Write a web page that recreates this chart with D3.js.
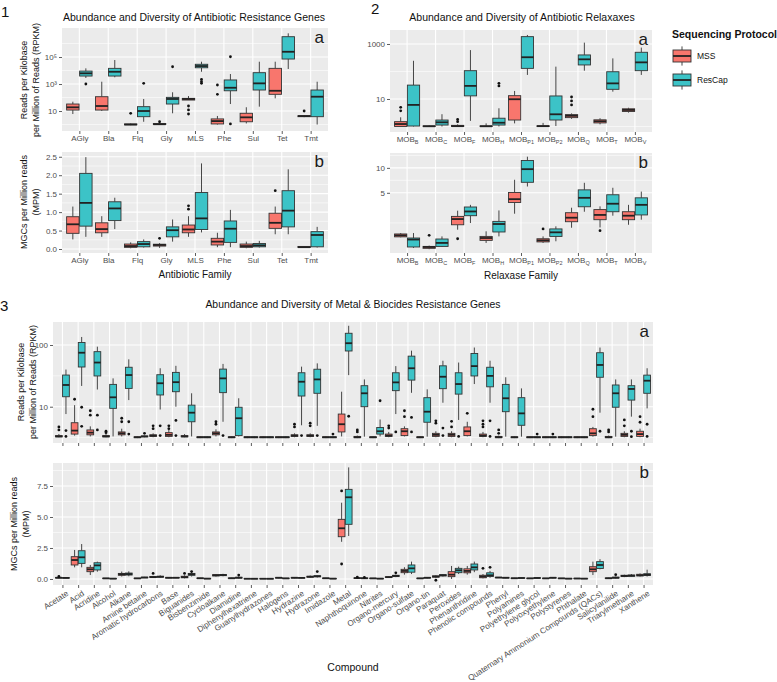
<!DOCTYPE html>
<html><head><meta charset="utf-8">
<script src="https://cdn.jsdelivr.net/npm/d3@7"></script>
<style>
body{margin:0;background:#fff;}
text{font-family:"Liberation Sans",Arial,Helvetica,sans-serif;}
</style></head>
<body>
<svg id="chart" width="777" height="682"></svg>
<script>
// ---------------- DATA ----------------
// each box: [lower whisker, q1, median, q3, upper whisker, [outliers]]
const antibioticFamilies = ["AGly","Bla","Flq","Gly","MLS","Phe","Sul","Tet","Tmt"];
const abxRpkmMSS = [
  [6.0,11.8,18.8,33,49,[]],
  [10,11.8,23.5,115,1480,[]],
  [0.9,0.95,1.0,1.1,1.2,[6.8]],
  [0.95,1.0,1.05,1.2,1.4,[1.6]],
  [65,65,78,87,129,[23.5,12,6]],
  [1.0,1.1,1.8,2.6,4.3,[850,173]],
  [1.2,1.6,3.4,6.8,19,[]],
  [87,173,316,14500,45000,[]],
  [3.5,3.8,4.2,4.5,5,[10]]
];
const abxRpkmResCap = [
  [2800,3900,6200,9100,14500,[1000]],
  [3150,3900,8100,14500,60000,[]],
  [1.6,3.8,10,21,78,[1120]],
  [6.8,33,78,103,245,[19000]],
  [8100,16000,21500,29000,45000,[2200,1480,1120]],
  [33,316,530,2000,5500,[105000,1.1]],
  [21,360,1120,6900,45000,[]],
  [13000,71000,245000,3200000,5700000,[]],
  [1,3.8,115,360,1480,[]]
];
const abxMpmMSS = [
  [0.26,0.425,0.67,0.875,1.15,[]],
  [0.33,0.44,0.54,0.71,0.89,[]],
  [0.02,0.045,0.08,0.135,0.18,[]],
  [0.03,0.08,0.11,0.13,0.16,[0.29]],
  [0.33,0.44,0.53,0.65,0.89,[1.17,1.08]],
  [0.05,0.11,0.2,0.29,0.44,[]],
  [0.02,0.045,0.08,0.135,0.2,[]],
  [0.4,0.56,0.71,0.97,1.15,[1.58]],
  [0.03,0.04,0.05,0.07,0.08,[]]
];
const abxMpmResCap = [
  [0.33,0.62,1.25,2.05,2.49,[]],
  [0.54,0.77,1.10,1.28,1.39,[]],
  [0.04,0.06,0.135,0.2,0.26,[]],
  [0.2,0.33,0.51,0.6,0.8,[]],
  [0.45,0.53,0.83,1.53,2.32,[]],
  [0.05,0.18,0.55,0.76,1.06,[]],
  [0.04,0.06,0.1,0.15,0.22,[]],
  [0.4,0.6,1.04,1.58,2.16,[]],
  [0.04,0.06,0.38,0.47,0.6,[]]
];

const relaxaseFamilies = ["B","C","F","H","P1","P2","Q","T","V"]; // MOB subscripts
const mobRpkmMSS = [
  [1.0,1.0,1.23,1.5,2.16,[5.0,3.7]],
  [1.0,1.0,1.02,1.05,1.1,[]],
  [1.0,1.0,1.03,1.1,1.2,[1.8,1.5]],
  [1.0,1.0,1.02,1.05,1.3,[]],
  [1.3,1.72,9.8,13.2,19.6,[]],
  [1.0,1.0,1.03,1.06,1.35,[]],
  [1.9,2.1,2.45,2.7,3.0,[11.8,8.5,6.1]],
  [1.2,1.35,1.55,1.75,2.0,[]],
  [3.2,3.5,4.0,4.4,4.8,[]]
];
const mobRpkmResCap = [
  [1.0,1.04,6.1,32,245,[]],
  [1.0,1.13,1.42,1.72,2.8,[]],
  [1.6,13,30,107,600,[]],
  [1.0,1.13,1.37,2.0,4.6,[37,30]],
  [75,130,330,1850,2130,[]],
  [1.04,1.72,2.78,12.9,150,[]],
  [107,173,277,400,1120,[]],
  [18.5,22.5,37,98,300,[]],
  [75,107,215,500,740,[]]
];
const mobMpmMSS = [
  [0.34,0.36,0.43,0.5,0.55,[]],
  [0.02,0.03,0.05,0.06,0.075,[0.43]],
  [0.75,1.1,1.59,1.85,2.47,[0.28]],
  [0.14,0.22,0.31,0.38,0.65,[]],
  [2.13,3.52,4.0,5.06,7.4,[]],
  [0.14,0.17,0.22,0.28,0.38,[0.8]],
  [0.88,1.35,1.72,2.24,2.83,[]],
  [0.9,1.53,2.0,2.6,3.0,[0.69]],
  [1.1,1.53,1.92,2.35,3.2,[]]
];
const mobMpmResCap = [
  [0.036,0.05,0.25,0.31,0.55,[]],
  [0.05,0.06,0.14,0.27,0.38,[]],
  [1.24,1.92,2.38,2.92,3.2,[]],
  [0.38,0.61,1.16,1.38,2.5,[]],
  [6.1,6.9,9.7,11.8,12.8,[]],
  [0.19,0.38,0.59,0.8,0.98,[]],
  [2.35,2.95,4.2,5.5,6.8,[]],
  [1.92,2.35,3.35,4.68,5.87,[]],
  [1.53,2.0,3.2,4.2,5.2,[]]
];

const compounds = ["Acetate","Acid","Acridine","Alcohol","Alkane","Amine betaine","Aromatic hydrocarbons","Base","Biguanides","Bisbenzimide","Cycloalkane","Diamidine","Diphenylhexatriene","Guanylhydrazones","Halogens","Hydrazine","Hydrazone","Imidazole","Metal","Naphthoquinone","Nitrites","Organo-mercury","Organo-sulfate","Organo-tin","Paraquat","Peroxides","Phenanthridine","Phenolic compounds","Phenyl","Polyamines","Polyethylene glycol","Polyoxyethylene","Polystyrenes","Phthalate","Quaternary Ammonium Compounds (QACs)","Salicylanilide","Triarylmethane","Xanthene"];
const metRpkmMSS = [
  [3.2,3.25,3.3,3.4,3.6,[4.7,4.2]],
  [3.4,3.6,4.1,5.5,10.6,[13.2]],
  [3.3,3.5,3.8,4.2,4.8,[8.6,7.3]],
  [3.2,3.25,3.3,3.4,3.6,[4.0,3.8]],
  [3.3,3.5,3.7,3.9,4.4,[6.5,5.7]],
  [3.1,3.15,3.2,3.25,3.3,[]],
  [3.2,3.3,3.4,3.5,3.7,[4.9,4.4]],
  [3.2,3.3,3.5,3.8,4.2,[4.9,4.4]],
  [3.2,3.25,3.3,3.4,3.6,[]],
  [3.1,3.15,3.2,3.25,3.3,[]],
  [3.3,3.5,3.7,3.9,4.3,[5.7,5.2]],
  [3.1,3.15,3.2,3.25,3.3,[]],
  [3.1,3.15,3.2,3.25,3.3,[]],
  [3.1,3.15,3.2,3.25,3.3,[]],
  [3.1,3.15,3.2,3.25,3.3,[]],
  [3.2,3.3,3.4,3.5,3.7,[5.2,4.7]],
  [3.2,3.3,3.4,3.5,3.7,[5.4,4.9]],
  [3.1,3.15,3.2,3.25,3.3,[]],
  [3.3,3.9,5.2,7.6,17.5,[]],
  [3.1,3.15,3.2,3.3,3.4,[4.2,3.9]],
  [3.1,3.15,3.2,3.25,3.3,[]],
  [3.2,3.3,3.4,3.6,3.9,[4.9,4.5]],
  [3.3,3.4,4.0,4.4,4.8,[8.6,6.9]],
  [3.1,3.15,3.2,3.25,3.3,[]],
  [3.2,3.3,3.5,3.7,4.0,[5.9,5.4]],
  [3.2,3.3,3.5,3.7,4.0,[5.8,4.7]],
  [3.3,3.4,4.0,4.7,5.7,[7.8]],
  [3.2,3.3,3.4,3.6,3.9,[5.9,5.2,4.7]],
  [3.1,3.15,3.2,3.3,3.4,[4.2,3.7]],
  [3.1,3.15,3.2,3.25,3.3,[]],
  [3.1,3.15,3.2,3.25,3.3,[]],
  [3.1,3.15,3.2,3.25,3.3,[]],
  [3.1,3.15,3.2,3.25,3.3,[]],
  [3.1,3.15,3.2,3.25,3.3,[]],
  [3.27,3.4,3.7,4.4,4.7,[9.1,6.9]],
  [3.1,3.15,3.2,3.3,3.4,[4.2,3.9]],
  [3.2,3.3,3.5,3.7,4.0,[6.1,4.9]],
  [3.2,3.3,3.6,4.0,4.4,[6.9,5.6]]
];
const metRpkmResCap = [
  [7.6,14.5,22.5,32.6,40,[4.1,3.3]],
  [21.7,44,75,110,135,[9.8,4.8]],
  [19,31.5,52,78,94,[7.3,4.2]],
  [3.3,9.4,14.2,23,28.8,[]],
  [12.8,19.8,32.6,43.6,58.6,[5.7,3.6]],
  [3.2,3.25,3.3,3.35,3.4,[3.7]],
  [9,15.5,24,33,42,[4.9,3.4]],
  [10,17.5,25,36,46,[6,3.4]],
  [3.3,5.7,8.0,10.6,16.5,[]],
  [3.1,3.15,3.2,3.25,3.3,[]],
  [5.7,16.9,28.8,40.7,49.4,[3.4]],
  [3.3,3.4,6.5,9.8,13.7,[]],
  [3.1,3.15,3.2,3.25,3.3,[]],
  [3.1,3.15,3.2,3.25,3.3,[]],
  [3.1,3.15,3.2,3.25,3.3,[]],
  [5.0,14.9,25.4,35.5,44.6,[3.4]],
  [4.9,16.5,27.7,40.5,50.4,[3.4]],
  [3.1,3.15,3.2,3.25,3.3,[3.6]],
  [32.5,80,107,155,205,[7.0]],
  [3.27,10,16.5,21.9,27.7,[]],
  [3.3,3.6,4.0,4.6,6.2,[12.5]],
  [7.6,18.2,24.8,35.5,45.5,[3.9]],
  [16.8,27,42,66,81,[6.7,3.9]],
  [3.27,5.6,8.3,14,19.1,[]],
  [11.6,19.6,30.6,46,55.6,[4.5,3.4]],
  [6.1,16,23.3,35.5,52,[3.3]],
  [23.3,31.5,45.5,73,91,[]],
  [11.6,21,31.6,43.6,55.6,[5.9,3.3]],
  [3.27,8.3,13.7,23,30,[]],
  [3.27,5.0,7.8,14,19.8,[]],
  [3.1,3.15,3.2,3.25,3.3,[3.6]],
  [3.1,3.15,3.2,3.25,3.3,[3.6]],
  [3.1,3.15,3.2,3.25,3.3,[]],
  [3.1,3.15,3.2,3.25,3.3,[]],
  [8,30,47.5,75,91,[4.0]],
  [3.27,9.8,16.5,22.5,27.7,[]],
  [6.9,12.8,19.4,21.9,27.7,[4.0,3.27]],
  [9.4,16.5,26.4,32.5,42,[5.2,3.3]]
];
const metMpmMSS = [
  [0.05,0.08,0.1,0.12,0.15,[0.2]],
  [0.94,1.13,1.53,1.80,2.34,[]],
  [0.32,0.59,0.78,0.94,1.13,[]],
  [0.02,0.04,0.05,0.06,0.08,[]],
  [0.2,0.3,0.38,0.45,0.6,[]],
  [0.02,0.04,0.05,0.06,0.08,[]],
  [0.08,0.12,0.15,0.2,0.25,[0.45]],
  [0.06,0.08,0.1,0.11,0.13,[]],
  [0.05,0.1,0.15,0.22,0.3,[0.45]],
  [0.03,0.05,0.06,0.07,0.09,[]],
  [0.2,0.25,0.3,0.35,0.4,[]],
  [0.03,0.05,0.06,0.08,0.1,[]],
  [0.01,0.02,0.02,0.03,0.04,[]],
  [0.01,0.02,0.02,0.03,0.04,[]],
  [0.06,0.08,0.1,0.11,0.12,[]],
  [0.06,0.08,0.1,0.11,0.12,[]],
  [0.1,0.15,0.18,0.22,0.28,[]],
  [0.03,0.05,0.06,0.07,0.09,[]],
  [3.0,3.41,4.09,4.81,6.15,[7.1,1.21]],
  [0.02,0.05,0.07,0.09,0.12,[0.15]],
  [0.02,0.04,0.05,0.06,0.07,[]],
  [0.08,0.12,0.15,0.18,0.22,[]],
  [0.35,0.51,0.65,0.78,0.95,[]],
  [0.02,0.04,0.05,0.06,0.08,[]],
  [0.08,0.15,0.2,0.25,0.3,[-0.1]],
  [0.0,0.19,0.35,0.59,1.05,[]],
  [0.35,0.5,0.65,0.82,1.05,[]],
  [0.05,0.1,0.2,0.3,0.4,[0.86]],
  [0.08,0.1,0.12,0.13,0.15,[]],
  [0.03,0.05,0.06,0.07,0.09,[]],
  [0.03,0.04,0.05,0.06,0.07,[]],
  [0.03,0.04,0.05,0.06,0.07,[]],
  [0.02,0.04,0.05,0.06,0.07,[]],
  [0.02,0.03,0.04,0.05,0.06,[]],
  [0.32,0.59,0.78,0.99,1.4,[]],
  [0.02,0.04,0.06,0.08,0.1,[]],
  [0.15,0.2,0.25,0.3,0.35,[]],
  [0.2,0.25,0.3,0.38,0.45,[]]
];
const metMpmResCap = [
  [0.05,0.07,0.09,0.11,0.14,[]],
  [0.94,1.26,1.75,2.28,2.82,[]],
  [0.59,0.73,1.1,1.31,1.4,[]],
  [0.01,0.02,0.03,0.04,0.05,[]],
  [0.22,0.32,0.4,0.48,0.62,[]],
  [0.08,0.1,0.12,0.14,0.17,[]],
  [0.1,0.15,0.18,0.22,0.3,[]],
  [0.07,0.09,0.1,0.12,0.14,[]],
  [0.2,0.3,0.38,0.45,0.55,[0.6]],
  [0.01,0.02,0.03,0.04,0.05,[]],
  [0.22,0.27,0.32,0.36,0.42,[]],
  [0.05,0.08,0.1,0.14,0.2,[0.32]],
  [0.01,0.01,0.02,0.02,0.03,[]],
  [0.01,0.01,0.02,0.02,0.03,[]],
  [0.03,0.04,0.05,0.06,0.07,[]],
  [0.06,0.08,0.09,0.1,0.12,[]],
  [0.12,0.18,0.22,0.26,0.3,[0.6]],
  [0.01,0.02,0.03,0.04,0.05,[]],
  [3.47,4.41,6.59,7.23,9.0,[]],
  [0.02,0.04,0.06,0.08,0.1,[0.13]],
  [0.01,0.02,0.03,0.04,0.05,[]],
  [0.15,0.2,0.25,0.3,0.35,[0.5]],
  [0.4,0.55,0.86,1.13,1.4,[]],
  [0.05,0.08,0.1,0.12,0.15,[]],
  [0.2,0.25,0.3,0.35,0.4,[]],
  [0.4,0.51,0.7,0.86,1.0,[]],
  [0.55,0.73,0.94,1.21,1.4,[]],
  [0.1,0.2,0.3,0.5,0.65,[0.94]],
  [0.06,0.08,0.1,0.11,0.12,[]],
  [0.05,0.07,0.08,0.09,0.11,[]],
  [0.05,0.07,0.08,0.1,0.12,[]],
  [0.05,0.08,0.1,0.11,0.13,[]],
  [0.01,0.02,0.03,0.04,0.05,[]],
  [0.01,0.02,0.03,0.03,0.04,[]],
  [0.78,0.85,1.13,1.4,1.6,[]],
  [0.05,0.08,0.1,0.15,0.2,[0.35]],
  [0.18,0.22,0.27,0.32,0.4,[]],
  [0.2,0.28,0.35,0.42,0.75,[]]
];

const seriesNames = ["MSS","ResCap"];
const seriesColors = ["#F8766D","#3CC3C7"];

// ---------------- DRAWING ----------------
const FONT = '"Liberation Sans", Arial, Helvetica, sans-serif';
const svg = d3.select("#chart");

function drawPanel(o) {
  const g = svg.append("g");
  const idx = o.cats.map((c, i) => i);
  const x = d3.scalePoint().domain(idx).range([o.x0, o.x1]).padding(0.6);
  const step = x.step();
  const y = o.y;
  g.append("rect").attr("x", o.x0).attr("y", o.y0)
    .attr("width", o.x1 - o.x0).attr("height", o.y1 - o.y0).attr("fill", "#EBEBEB");
  const inside = v => { const p = y(v); return p >= o.y0 && p <= o.y1; };
  g.selectAll(".mi").data(o.minor.filter(inside)).join("line")
    .attr("x1", o.x0).attr("x2", o.x1).attr("y1", d => y(d)).attr("y2", d => y(d))
    .attr("stroke", "#fff").attr("stroke-width", 0.55);
  g.selectAll(".ma").data(o.major.filter(inside)).join("line")
    .attr("x1", o.x0).attr("x2", o.x1).attr("y1", d => y(d)).attr("y2", d => y(d))
    .attr("stroke", "#fff").attr("stroke-width", 1.1);
  g.selectAll(".vx").data(idx).join("line")
    .attr("x1", d => x(d)).attr("x2", d => x(d)).attr("y1", o.y0).attr("y2", o.y1)
    .attr("stroke", "#fff").attr("stroke-width", 1.1);

  const off = 0.225 * step, bw = 0.43 * step;
  [o.mss, o.rescap].forEach((arr, s) => {
    const dx = s === 0 ? -off : off;
    const bg = g.append("g");
    const box = bg.selectAll("g").data(arr).join("g");
    box.append("line").attr("x1", (d, i) => x(i) + dx).attr("x2", (d, i) => x(i) + dx)
      .attr("y1", d => y(d[4])).attr("y2", d => y(d[3])).attr("stroke", "#333").attr("stroke-width", 0.9);
    box.append("line").attr("x1", (d, i) => x(i) + dx).attr("x2", (d, i) => x(i) + dx)
      .attr("y1", d => y(d[1])).attr("y2", d => y(d[0])).attr("stroke", "#333").attr("stroke-width", 0.9);
    box.append("rect").attr("x", (d, i) => x(i) + dx - bw / 2).attr("y", d => y(d[3]))
      .attr("width", bw).attr("height", d => Math.max(0.1, y(d[1]) - y(d[3])))
      .attr("fill", seriesColors[s]).attr("stroke", "#333").attr("stroke-width", 0.9);
    box.append("line").attr("x1", (d, i) => x(i) + dx - bw / 2).attr("x2", (d, i) => x(i) + dx + bw / 2)
      .attr("y1", d => y(d[2])).attr("y2", d => y(d[2])).attr("stroke", "#222").attr("stroke-width", 1.8);
    box.each(function (d, i) {
      d3.select(this).selectAll("circle").data(d[5]).join("circle")
        .attr("cx", x(i) + dx).attr("cy", v => y(v)).attr("r", 1.4).attr("fill", "#111");
    });
  });

  // y axis
  const ya = d3.axisLeft(y).tickValues(o.major).tickFormat((d, i) => o.labels[i]).tickSize(3).tickPadding(2);
  const yg = g.append("g").attr("transform", `translate(${o.x0},0)`).call(ya)
    .attr("font-family", FONT).attr("font-size", o.tickFont || 8);
  yg.select(".domain").remove();
  yg.selectAll(".tick line").attr("stroke", "#333").attr("stroke-width", 0.8);
  yg.selectAll(".tick text").attr("fill", "#4D4D4D");

  // x axis
  const xa = d3.axisBottom(x).tickSize(3).tickPadding(1).tickFormat(i => o.xLabelMode === "none" ? "" : o.cats[i]);
  const xg = g.append("g").attr("transform", `translate(0,${o.y1})`).call(xa)
    .attr("font-family", FONT).attr("font-size", o.xTickFont || 8);
  xg.select(".domain").remove();
  xg.selectAll(".tick line").attr("stroke", "#333").attr("stroke-width", 0.8);
  xg.selectAll(".tick text").attr("fill", "#4D4D4D");
  if (o.xLabelMode === "mob") {
    xg.selectAll(".tick text").each(function (i) {
      const t = d3.select(this); t.text(null);
      t.append("tspan").text("MOB");
      t.append("tspan").attr("font-size", 5.5).attr("dy", 2.5).text(o.cats[i]);
    });
  }
  if (o.xLabelMode === "rot") {
    xg.selectAll(".tick text").attr("x", 0).attr("y", 0).attr("dy", "0.71em")
      .attr("transform", "translate(3,5) rotate(-33)").style("text-anchor", "end");
  }
  // facet letter
  g.append("text").attr("x", o.x1 - 4).attr("y", o.y0 + 15).attr("text-anchor", "end")
    .attr("font-size", 17).attr("fill", "#1a1a1a").text(o.letter);
  return { x, step };
}

function vTitle(lines, xs, yc, size) {
  lines.forEach((l, i) => {
    svg.append("text").attr("transform", `translate(${xs[i]},${yc}) rotate(-90)`)
      .attr("text-anchor", "middle").attr("font-size", size).attr("fill", "#111").text(l);
  });
}
function txt(s, x, y, size, anchor, weight) {
  svg.append("text").attr("x", x).attr("y", y).attr("font-size", size)
    .attr("text-anchor", anchor || "middle").attr("font-weight", weight || "normal").attr("fill", "#111").text(s);
}

// ---- Panel 1 ----
const p1x0 = 62, p1x1 = 328;
drawPanel({
  x0: p1x0, x1: p1x1, y0: 28, y1: 131, cats: antibioticFamilies,
  y: d3.scaleLog().domain([Math.pow(10, -0.48), Math.pow(10, 7.15)]).range([131, 28]),
  major: [10, 1e3, 1e5], labels: ["10", "10³", "10⁵"], minor: [1, 100, 1e4, 1e6],
  mss: abxRpkmMSS, rescap: abxRpkmResCap, letter: "a", tickFont: 8, xTickFont: 8
});
drawPanel({
  x0: p1x0, x1: p1x1, y0: 152, y1: 253, cats: antibioticFamilies,
  y: d3.scaleLinear().domain([-0.108, 2.629]).range([253, 152]),
  major: [0, 0.5, 1, 1.5, 2, 2.5], labels: ["0.0", "0.5", "1.0", "1.5", "2.0", "2.5"],
  minor: [0.25, 0.75, 1.25, 1.75, 2.25],
  mss: abxMpmMSS, rescap: abxMpmResCap, letter: "b", tickFont: 8, xTickFont: 8
});
txt("Abundance and Diversity of Antibiotic Resistance Genes", 194, 21, 10.5);
txt("Antibiotic Family", 195, 278, 10);
vTitle(["Reads per Kilobase", "per Million of Reads (RPKM)"], [27, 39], 80, 9);
vTitle(["MGCs per Million reads", "(MPM)"], [27, 39], 202, 9);
txt("1", 1, 17, 15, "start");

// ---- Panel 2 ----
const p2x0 = 390, p2x1 = 652;
drawPanel({
  x0: p2x0, x1: p2x1, y0: 30, y1: 132, cats: relaxaseFamilies,
  y: d3.scaleLog().domain([Math.pow(10, -0.2), Math.pow(10, 3.509)]).range([132, 30]),
  major: [10, 1000], labels: ["10", "1000"], minor: [1, 100],
  mss: mobRpkmMSS, rescap: mobRpkmResCap, letter: "a", tickFont: 8, xTickFont: 8, xLabelMode: "mob"
});
drawPanel({
  x0: p2x0, x1: p2x1, y0: 153, y1: 253, cats: relaxaseFamilies,
  y: d3.scaleSqrt().domain([0, 13.8]).range([253, 153]),
  major: [5, 10], labels: ["5", "10"], minor: [1.25, 7.29, 13.14],
  mss: mobMpmMSS, rescap: mobMpmResCap, letter: "b", tickFont: 8, xTickFont: 8, xLabelMode: "mob"
});
txt("Abundance and Diversity of Antibiotic Relaxaxes", 522, 21, 10.5);
txt("Relaxase Family", 521, 279, 10);
txt("2", 371, 14, 15, "start");

// ---- Legend ----
txt("Sequencing Protocol", 672, 38, 10.5, "start", "bold");
seriesNames.forEach((nm, i) => {
  const ky = 44 + i * 24, kx = 670, kw = 24, kh = 24;
  const lg = svg.append("g");
  lg.append("line").attr("x1", kx + kw / 2).attr("x2", kx + kw / 2).attr("y1", ky + kh * 0.1).attr("y2", ky + kh * 0.9)
    .attr("stroke", "#333").attr("stroke-width", 0.9);
  lg.append("rect").attr("x", kx + kw * 0.125).attr("y", ky + kh * 0.25).attr("width", kw * 0.75).attr("height", kh * 0.5)
    .attr("fill", seriesColors[i]).attr("stroke", "#333").attr("stroke-width", 0.9);
  lg.append("line").attr("x1", kx + kw * 0.125).attr("x2", kx + kw * 0.875).attr("y1", ky + kh / 2).attr("y2", ky + kh / 2)
    .attr("stroke", "#222").attr("stroke-width", 1.8);
  txt(nm, 697, ky + kh / 2 + 3, 8.5, "start");
});

// ---- Panel 3 ----
const p3x0 = 53, p3x1 = 653;
drawPanel({
  x0: p3x0, x1: p3x1, y0: 322, y1: 443, cats: compounds,
  y: d3.scaleLog().domain([Math.pow(10, 0.4117), Math.pow(10, 2.373)]).range([443, 322]),
  major: [10, 100], labels: ["10", "100"], minor: [Math.pow(10, 0.5), Math.pow(10, 1.5)],
  mss: metRpkmMSS, rescap: metRpkmResCap, letter: "a", tickFont: 8, xLabelMode: "none"
});
drawPanel({
  x0: p3x0, x1: p3x1, y0: 463, y1: 585, cats: compounds,
  y: d3.scaleLinear().domain([-0.484, 9.355]).range([585, 463]),
  major: [0, 2.5, 5, 7.5], labels: ["0.0", "2.5", "5.0", "7.5"], minor: [1.25, 3.75, 6.25, 8.75],
  mss: metMpmMSS, rescap: metMpmResCap, letter: "b", tickFont: 8, xTickFont: 8.1, xLabelMode: "rot"
});
txt("Abundance and Diversity of Metal & Biocides Resistance Genes", 353, 308, 10.4);
txt("Compound", 353, 671, 10.5);
vTitle(["Reads per Kilobase", "per Million of Reads (RPKM)"], [24, 36], 382, 9);
vTitle(["MGCs per Million reads", "(MPM)"], [17, 29], 524, 9);
txt("3", 0, 311, 15, "start");
</script>
</body></html>
